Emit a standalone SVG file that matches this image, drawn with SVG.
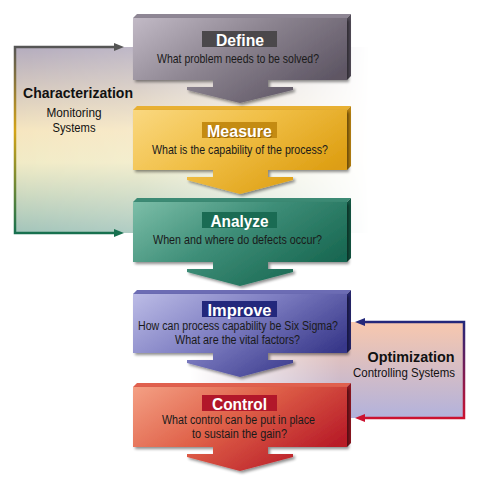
<svg xmlns="http://www.w3.org/2000/svg" width="481" height="486" viewBox="0 0 481 486">
<defs>
<style>
.lbl{font-family:"Liberation Sans",Arial,sans-serif;font-weight:bold;font-size:16.5px;fill:#fff;text-anchor:middle}
.sub{font-family:"Liberation Sans",Arial,sans-serif;font-size:13.5px;fill:#1a1a1a;text-anchor:middle}
.sub2{font-family:"Liberation Sans",Arial,sans-serif;font-size:12.5px;fill:#1a1a1a;text-anchor:middle}
.side{font-family:"Liberation Sans",Arial,sans-serif;fill:#111;text-anchor:middle}
.b{font-weight:bold;font-size:15px}
.r{font-size:13px}
</style>
<filter id="sh" x="-10%" y="-10%" width="125%" height="130%">
<feGaussianBlur in="SourceAlpha" stdDeviation="1.4"/>
<feOffset dx="2" dy="2" result="o"/>
<feComponentTransfer><feFuncA type="linear" slope="0.45"/></feComponentTransfer>
<feMerge><feMergeNode/><feMergeNode in="SourceGraphic"/></feMerge>
</filter>
<linearGradient id="gDef" x1="0" y1="0" x2="1" y2="0.6"><stop offset="0" stop-color="#c2bac6"/><stop offset="0.5" stop-color="#8c8490"/><stop offset="1" stop-color="#5e5664"/></linearGradient>
<linearGradient id="gMea" x1="0" y1="0" x2="1" y2="0.6"><stop offset="0" stop-color="#fad880"/><stop offset="0.5" stop-color="#f0be44"/><stop offset="1" stop-color="#dd9e12"/></linearGradient>
<linearGradient id="gAna" x1="0" y1="0" x2="1" y2="0.6"><stop offset="0" stop-color="#7cbea8"/><stop offset="0.5" stop-color="#3e8e78"/><stop offset="1" stop-color="#196852"/></linearGradient>
<linearGradient id="gImp" x1="0" y1="0" x2="1" y2="0.6"><stop offset="0" stop-color="#bcbce6"/><stop offset="0.5" stop-color="#7e7ec2"/><stop offset="1" stop-color="#38388a"/></linearGradient>
<linearGradient id="gCon" x1="0" y1="0" x2="1" y2="0.6"><stop offset="0" stop-color="#f4a084"/><stop offset="0.5" stop-color="#df6048"/><stop offset="1" stop-color="#b81c28"/></linearGradient>
<linearGradient id="gLeft" x1="0" y1="47" x2="0" y2="233" gradientUnits="userSpaceOnUse"><stop offset="0" stop-color="#b4acbe"/><stop offset="0.45" stop-color="#f6e6c0"/><stop offset="0.62" stop-color="#f1ebc6"/><stop offset="1" stop-color="#a2c4ba"/></linearGradient>
<linearGradient id="mLeftG" x1="15" y1="0" x2="370" y2="0" gradientUnits="userSpaceOnUse"><stop offset="0" stop-color="#fff"/><stop offset="0.35" stop-color="#fff" stop-opacity="0.85"/><stop offset="1" stop-color="#fff" stop-opacity="0"/></linearGradient>
<mask id="mLeft" maskUnits="userSpaceOnUse" x="0" y="0" width="481" height="486"><rect x="15" y="47" width="355" height="186" fill="url(#mLeftG)"/></mask>
<linearGradient id="gRight" x1="0" y1="322" x2="0" y2="418" gradientUnits="userSpaceOnUse"><stop offset="0" stop-color="#f8c8ae"/><stop offset="1" stop-color="#b2b2dc"/></linearGradient>
<linearGradient id="mRightG" x1="190" y1="0" x2="464" y2="0" gradientUnits="userSpaceOnUse"><stop offset="0" stop-color="#fff" stop-opacity="0"/><stop offset="0.55" stop-color="#fff"/><stop offset="1" stop-color="#fff"/></linearGradient>
<mask id="mRight" maskUnits="userSpaceOnUse" x="0" y="0" width="481" height="486"><rect x="190" y="322" width="274" height="96" fill="url(#mRightG)"/></mask>
<linearGradient id="sLeft" x1="0" y1="47" x2="0" y2="233" gradientUnits="userSpaceOnUse"><stop offset="0" stop-color="#555555"/><stop offset="0.45" stop-color="#d4a418"/><stop offset="1" stop-color="#17704f"/></linearGradient>
<linearGradient id="sRight" x1="0" y1="322" x2="0" y2="418" gradientUnits="userSpaceOnUse"><stop offset="0" stop-color="#24287a"/><stop offset="1" stop-color="#cc1230"/></linearGradient>
</defs>
<rect width="481" height="486" fill="#fff"/>

<g id="connectors">
<rect x="15" y="47" width="355" height="186" fill="url(#gLeft)" mask="url(#mLeft)"/>
<rect x="190" y="322" width="274" height="96" fill="url(#gRight)" mask="url(#mRight)"/>
<path d="M116,47 H15 V233 H116" fill="none" stroke="url(#sLeft)" stroke-width="2.5"/>
<polygon points="114,43 124,47 114,51" fill="#555555"/>
<polygon points="114,229 124,233 114,237" fill="#17704f"/>
<path d="M363,322 H464 V418 H363" fill="none" stroke="url(#sRight)" stroke-width="2.5"/>
<polygon points="365,318 355,322 365,326" fill="#24287a"/>
<polygon points="365,414 355,418 365,422" fill="#cc1230"/>
</g>

<g id="characterization" class="side">
<text x="78" y="98" class="b" textLength="110" lengthAdjust="spacingAndGlyphs">Characterization</text>
<text x="74" y="117" class="r" textLength="55" lengthAdjust="spacingAndGlyphs">Monitoring</text>
<text x="74" y="132" class="r" textLength="43" lengthAdjust="spacingAndGlyphs">Systems</text>
</g>

<g id="optimization" class="side">
<text x="411" y="362" class="b" textLength="87" lengthAdjust="spacingAndGlyphs">Optimization</text>
<text x="404" y="377" class="r" textLength="102" lengthAdjust="spacingAndGlyphs">Controlling Systems</text>
</g>

<g id="control" transform="translate(0,383)">
<polygon points="133,4 137,0 351,0 347,4" fill="#e0604e"/>
<polygon points="347,4 351,0 351,60 347,64" fill="#8e1620"/>
<path d="M133,4 H347 V64 H268 V71 H293 V74 L240,88 L187,74 V71 H213 V64 H133 Z" fill="url(#gCon)" filter="url(#sh)"/>
<rect x="202" y="12" width="75" height="16" fill="#b2172a"/>
<text x="239.5" y="26.5" class="lbl" textLength="55" lengthAdjust="spacingAndGlyphs">Control</text>
<text x="238.5" y="40.5" class="sub2" textLength="153" lengthAdjust="spacingAndGlyphs">What control can be put in place</text>
<text x="239.5" y="54.5" class="sub2" textLength="95" lengthAdjust="spacingAndGlyphs">to sustain the gain?</text>
</g>

<g id="improve" transform="translate(0,290)">
<polygon points="133,4 137,0 351,0 347,4" fill="#6c6cb4"/>
<polygon points="347,4 351,0 351,59 347,63" fill="#26266c"/>
<path d="M133,4 H347 V63 H268 V70 H293 V73 L240,87 L187,73 V70 H213 V63 H133 Z" fill="url(#gImp)" filter="url(#sh)"/>
<rect x="202" y="11" width="75" height="16" fill="#23287c"/>
<text x="239.5" y="25.5" class="lbl" textLength="64" lengthAdjust="spacingAndGlyphs">Improve</text>
<text x="238" y="40" class="sub2" textLength="200" lengthAdjust="spacingAndGlyphs">How can process capability be Six Sigma?</text>
<text x="237.5" y="54" class="sub2" textLength="125" lengthAdjust="spacingAndGlyphs">What are the vital factors?</text>
</g>

<g id="analyze" transform="translate(0,198)">
<polygon points="133,4 137,0 351,0 347,4" fill="#3c8a74"/>
<polygon points="347,4 351,0 351,60 347,64" fill="#135642"/>
<path d="M133,4 H347 V64 H268 V71 H293 V74 L240,88 L187,74 V71 H213 V64 H133 Z" fill="url(#gAna)" filter="url(#sh)"/>
<rect x="202" y="14" width="75" height="16" fill="#1a6b53"/>
<text x="239.5" y="28.5" class="lbl" textLength="58" lengthAdjust="spacingAndGlyphs">Analyze</text>
<text x="237.5" y="45.5" class="sub" textLength="169" lengthAdjust="spacingAndGlyphs">When and where do defects occur?</text>
</g>

<g id="measure" transform="translate(0,106)">
<polygon points="133,4 137,0 351,0 347,4" fill="#e8b032"/>
<polygon points="347,4 351,0 351,60 347,64" fill="#b88210"/>
<path d="M133,4 H347 V64 H268 V71 H293 V74 L240,88 L187,74 V71 H213 V64 H133 Z" fill="url(#gMea)" filter="url(#sh)"/>
<rect x="202" y="16" width="75" height="16" fill="#c48b12"/>
<text x="240.5" y="31.5" class="lbl" opacity="0.5" textLength="65" lengthAdjust="spacingAndGlyphs" style="fill:#5a3a00">Measure</text>
<text x="239.5" y="30.5" class="lbl" textLength="65" lengthAdjust="spacingAndGlyphs">Measure</text>
<text x="240" y="47.5" class="sub" textLength="176" lengthAdjust="spacingAndGlyphs">What is the capability of the process?</text>
</g>

<g id="define" transform="translate(0,14)">
<polygon points="133,4 137,0 351,0 347,4" fill="#8e8694"/>
<polygon points="347,4 351,0 351,62 347,66" fill="#524c58"/>
<path d="M133,4 H347 V66 H268 V73 H293 V76 L240,89 L187,76 V73 H213 V66 H133 Z" fill="url(#gDef)" filter="url(#sh)"/>
<rect x="202" y="17" width="75" height="16" fill="#4b484b"/>
<text x="240" y="31.5" class="lbl" textLength="48" lengthAdjust="spacingAndGlyphs">Define</text>
<text x="238" y="48.5" class="sub" textLength="162" lengthAdjust="spacingAndGlyphs">What problem needs to be solved?</text>
</g>
</svg>
